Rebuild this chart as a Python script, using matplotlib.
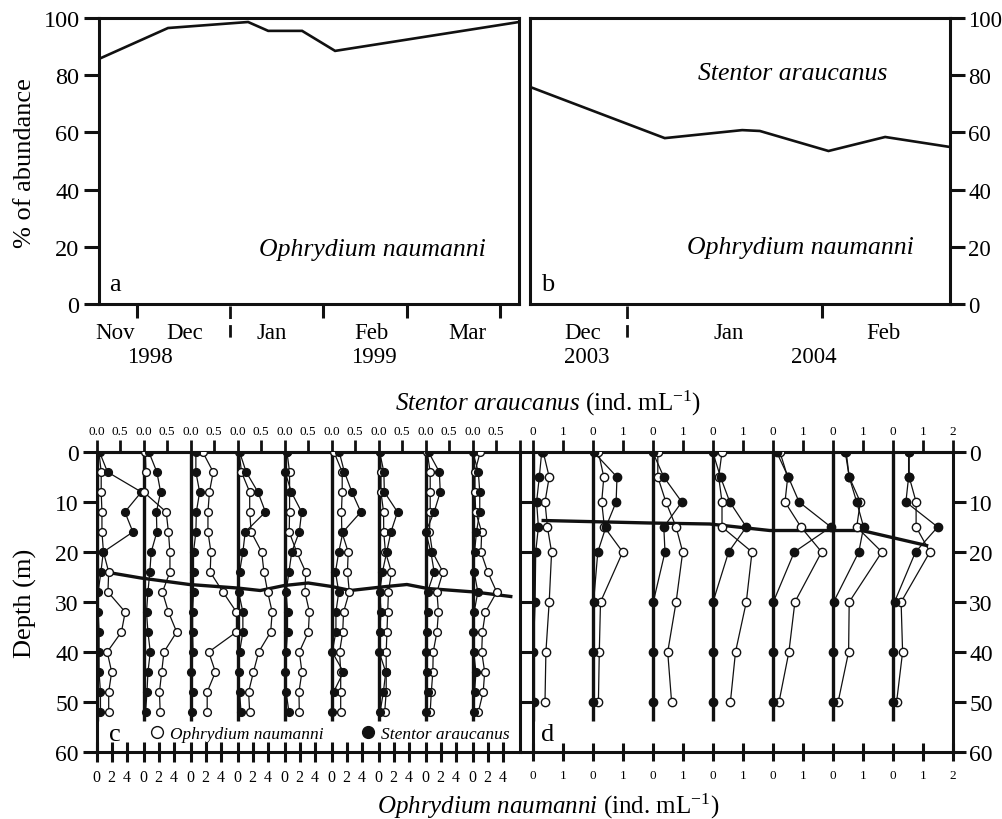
import matplotlib
matplotlib.use('Agg')
import matplotlib.pyplot as plt
from matplotlib.lines import Line2D
import numpy as np

plt.rcParams['font.family'] = ['Liberation Serif', 'DejaVu Serif']
plt.rcParams['mathtext.fontset'] = 'custom'
plt.rcParams['mathtext.rm'] = 'Liberation Serif'
plt.rcParams['mathtext.it'] = 'Liberation Serif:italic'

# ---------------- data ----------------
# Panel a: days since 1998-11-01, % abundance of Ophrydium
a_days = [17.3, 40.3, 67.0, 73.7, 85.0, 96.0, 157.3]
a_pct = [85.7, 96.5, 98.6, 95.5, 95.5, 88.5, 98.6]
a_xlim = (17.3, 157.3)
a_ticks = [30, 92, 120, 151]
a_year_break = 61
a_months = ['Nov', 'Dec', 'Jan', 'Feb', 'Mar']
a_month_pos = [22.7, 46.0, 75.0, 108.0, 140.0]
a_years = ['1998', '1999']
a_year_pos = [34.3, 109.0]

# Panel b: days since 2004-01-01
b_days = [-15.4, 6.0, 18.3, 21.1, 32.0, 41.0, 51.3]
b_pct = [75.9, 58.0, 60.8, 60.5, 53.5, 58.4, 54.9]
b_xlim = (-15.4, 51.3)
b_ticks = [31]
b_year_break = 0
b_months = ['Dec', 'Jan', 'Feb']
b_month_pos = [-7.0, 16.2, 40.7]
b_years = ['2003', '2004']
b_year_pos = [-6.4, 29.6]

pct_ticks = [0, 20, 40, 60, 80, 100]

# Panel c: 1998-99 profiles (9 dates), depths in m
depth_c = [0, 4, 8, 12, 16, 20, 24, 28, 32, 36, 40, 44, 48, 52]
stentor_c = [
    [0.06, 0.23, 0.95, 0.60, 0.77, 0.14, 0.09, 0.03, 0.03, 0.05, 0.05, 0.05, 0.08, 0.08],
    [0.11, 0.28, 0.36, 0.27, 0.28, 0.16, 0.13, 0.09, 0.06, 0.09, 0.14, 0.09, 0.07, 0.04],
    [0.11, 0.11, 0.19, 0.12, 0.11, 0.06, 0.06, 0.06, 0.04, 0.04, 0.05, 0.01, 0.04, 0.02],
    [0.04, 0.18, 0.43, 0.59, 0.16, 0.11, 0.04, 0.02, 0.11, 0.11, 0.04, 0.02, 0.04, 0.07],
    [0.05, 0.01, 0.14, 0.36, 0.31, 0.15, 0.09, 0.03, 0.06, 0.06, 0.03, 0.01, 0.03, 0.09],
    [0.16, 0.27, 0.43, 0.62, 0.24, 0.15, 0.08, 0.15, 0.09, 0.09, 0.01, 0.25, 0.04, 0.01],
    [0.02, 0.11, 0.12, 0.40, 0.26, 0.17, 0.08, 0.02, 0.05, 0.02, 0.01, 0.15, 0.10, 0.03],
    [0.06, 0.29, 0.31, 0.18, 0.00, 0.11, 0.18, 0.04, 0.04, 0.02, 0.00, 0.02, 0.04, 0.00],
    [0.00, 0.12, 0.15, 0.15, 0.08, 0.04, 0.03, 0.11, 0.03, 0.00, 0.02, 0.07, 0.04, 0.03],
]
ophrydium_c = [
    [0.3, 0.6, 0.6, 0.7, 0.7, 0.9, 1.6, 1.5, 3.8, 3.3, 1.4, 2.0, 1.6, 1.6],
    [0.2, 0.3, 0.0, 3.0, 3.3, 3.5, 3.5, 2.5, 3.3, 4.4, 2.7, 2.4, 2.1, 2.2],
    [1.6, 3.0, 2.5, 2.3, 2.3, 2.7, 2.6, 4.3, 6.1, 6.1, 2.4, 3.3, 2.2, 2.2],
    [0.2, 0.5, 1.6, 1.6, 1.8, 3.2, 3.5, 4.0, 4.6, 4.4, 2.8, 2.1, 1.45, 1.6],
    [0.3, 0.65, 0.65, 0.65, 0.6, 1.6, 2.8, 2.7, 3.3, 3.15, 1.95, 2.3, 1.9, 1.95],
    [0.3, 1.4, 1.4, 1.3, 1.35, 2.2, 2.1, 2.35, 1.58, 1.47, 1.05, 1.2, 1.2, 1.2],
    [0.2, 0.3, 0.3, 0.65, 0.67, 0.9, 1.7, 1.3, 1.2, 1.1, 1.0, 1.0, 1.0, 0.8],
    [0.2, 0.6, 0.6, 0.6, 0.5, 0.9, 2.3, 1.5, 1.7, 1.5, 1.0, 0.95, 0.75, 0.6],
    [1.0, 0.3, 0.3, 0.4, 1.2, 1.1, 2.0, 3.2, 1.7, 1.3, 1.2, 1.6, 1.4, 0.75],
]
thermo_c_x = [0, 0.94, 1.97, 2.99, 3.48, 3.99, 4.5, 5.0, 5.4, 6.06, 6.6, 7.04, 8.04, 8.81]
thermo_c_depth = [23.7, 25.2, 26.5, 27.2, 27.7, 26.7, 26.2, 26.9, 27.7, 27.0, 26.5, 27.3, 28.0, 28.9]
c_stentor_ticks = [0.0, 0.5]
c_stentor_ticklabels = ['0.0', '0.5']
c_ophry_ticks = [0, 2, 4]
c_ophry_per_slot = 6.27   # Ophrydium units spanning one profile slot (= 1.0 Stentor)

# Panel d: 2003-04 profiles (7 dates)
depth_d = [0, 5, 10, 15, 20, 30, 40, 50]
stentor_d = [
    [0.30, 0.22, 0.13, 0.19, 0.10, 0.08, 0.02, 0.04],
    [0.03, 0.81, 0.78, 0.44, 0.17, 0.03, 0.00, 0.00],
    [0.00, 0.37, 0.97, 0.37, 0.41, 0.02, 0.00, 0.00],
    [0.00, 0.26, 0.57, 1.12, 0.53, 0.01, 0.00, 0.00],
    [0.13, 0.52, 0.88, 1.94, 0.72, 0.02, 0.00, 0.00],
    [0.42, 0.55, 0.80, 1.03, 0.87, 0.03, 0.01, 0.00],
    [0.53, 0.53, 0.44, 1.50, 0.76, 0.06, 0.00, 0.02],
]
ophrydium_d = [
    [0.35, 0.55, 0.41, 0.49, 0.63, 0.55, 0.44, 0.41],
    [0.19, 0.37, 0.30, 0.39, 1.00, 0.26, 0.22, 0.19],
    [0.17, 0.17, 0.44, 0.78, 1.00, 0.78, 0.50, 0.63],
    [0.31, 0.20, 0.31, 0.31, 1.31, 1.12, 0.76, 0.59],
    [0.24, 0.50, 0.41, 0.94, 1.63, 0.74, 0.54, 0.21],
    [0.45, 0.55, 0.92, 0.80, 1.64, 0.55, 0.53, 0.18],
    [0.55, 0.55, 0.78, 0.78, 1.24, 0.28, 0.33, 0.13],
]
thermo_d_x = [0.35, 3.9, 5.9, 7.9, 10.97, 13.13]
thermo_d_depth = [13.7, 14.2, 14.4, 15.7, 15.7, 18.7]
d_ticks = [0, 1]
d_slot = 2
depth_ticks = [0, 10, 20, 30, 40, 50, 60]

# ---------------- figure ----------------
W, H = 1003, 820
fig = plt.figure(figsize=(W / 100, H / 100), dpi=100)


def rect(x0, y0, x1, y1):
    return [x0 / W, 1 - y1 / H, (x1 - x0) / W, (y1 - y0) / H]


SP = 2.2
K = '#111111'
TICKFS = 17.5


def style_spines(ax):
    for s in ax.spines.values():
        s.set_linewidth(SP)
        s.set_color(K)


def time_panel(ax, days, pct, xlim, ticks, ybreak, months, mpos, years, ypos):
    ax.plot(days, pct, color=K, lw=1.9, solid_joinstyle='miter')
    ax.set_xlim(*xlim)
    ax.set_ylim(0, 100)
    ax.set_yticks(pct_ticks)
    ax.set_xticks(ticks)
    ax.set_xticklabels([])
    ax.tick_params(axis='x', direction='out', length=10, width=SP, color=K)
    style_spines(ax)
    tr = ax.get_xaxis_transform()
    ax.plot([ybreak, ybreak], [-0.008, -0.135], transform=tr, clip_on=False,
            color=K, lw=2.0, dashes=(4.5, 2.2))
    for lab, p in zip(months, mpos):
        ax.text(p, -0.098, lab, transform=tr, ha='center', va='center', fontsize=16.5)
    for lab, p in zip(years, ypos):
        ax.text(p, -0.185, lab, transform=tr, ha='center', va='center', fontsize=16.5)


axa = fig.add_axes(rect(99, 19, 519, 305))
time_panel(axa, a_days, a_pct, a_xlim, a_ticks, a_year_break, a_months, a_month_pos, a_years, a_year_pos)
axa.tick_params(axis='y', direction='out', length=11, width=SP, labelsize=TICKFS, pad=3, color=K)
axa.text(0.65, 0.192, 'Ophrydium naumanni', transform=axa.transAxes, ha='center', va='center',
         fontsize=18.5, style='italic')
axa.text(0.038, 0.07, 'a', transform=axa.transAxes, ha='center', va='center', fontsize=19)

axb = fig.add_axes(rect(530, 19, 950, 305))
time_panel(axb, b_days, b_pct, b_xlim, b_ticks, b_year_break, b_months, b_month_pos, b_years, b_year_pos)
axb.yaxis.tick_right()
axb.tick_params(axis='y', direction='out', length=11, width=SP, labelsize=16.5, pad=2, color=K)
axb.text(0.626, 0.808, 'Stentor araucanus', transform=axb.transAxes, ha='center', va='center',
         fontsize=18.5, style='italic')
axb.text(0.643, 0.199, 'Ophrydium naumanni', transform=axb.transAxes, ha='center', va='center',
         fontsize=18.5, style='italic')
axb.text(0.043, 0.07, 'b', transform=axb.transAxes, ha='center', va='center', fontsize=19)

fig.text(25 / W, 1 - 163 / H, '% of abundance', rotation=90, ha='center', va='center', fontsize=19)

LW = 0.9
MEW = 1.0


def profile_panel(ax, n, slot, depth, sten, oph, oph_scale, tx, td, ms):
    for i in range(n):
        ax.plot([i * slot, i * slot], [0, 53.7], color=K, lw=2.4, solid_capstyle='butt', zorder=2)
    ax.plot(tx, td, color=K, lw=2.4, zorder=3)
    for i in range(n):
        base = i * slot
        ax.plot(base + np.asarray(oph[i]) / oph_scale, depth, '-o', color=K, lw=LW, ms=ms,
                mfc='white', mec=K, mew=MEW, zorder=4)
        ax.plot(base + np.asarray(sten[i]), depth, '-o', color=K, lw=LW, ms=ms,
                mfc=K, mec=K, mew=MEW, zorder=4)
    ax.set_ylim(60, 0)
    style_spines(ax)


# Panel c
axc = fig.add_axes(rect(96.7, 453, 519.7, 753))
nC = len(stentor_c)
profile_panel(axc, nC, 1.0, depth_c, stentor_c, ophrydium_c, c_ophry_per_slot,
              thermo_c_x, thermo_c_depth, 5.6)
axc.set_xlim(0, nC)
bpos = [i + v / c_ophry_per_slot for i in range(nC) for v in c_ophry_ticks]
blab = [str(v) for i in range(nC) for v in c_ophry_ticks]
axc.set_xticks(bpos, labels=blab)
axc.tick_params(axis='x', direction='inout', length=14, width=SP, labelsize=11.5, pad=5, color=K)
axc.set_yticks(depth_ticks)
axc.tick_params(axis='y', direction='out', length=10, width=SP, labelsize=17, pad=3, color=K)
secc = axc.secondary_xaxis('top')
tpos = [i + v for i in range(nC) for v in c_stentor_ticks] + [nC]
tlab = [l for i in range(nC) for l in c_stentor_ticklabels] + ['']
secc.set_xticks(tpos, labels=tlab)
secc.tick_params(direction='out', length=9, width=2.0, labelsize=9.5, pad=2, color=K)
secc.spines['top'].set_linewidth(SP)
handles = [Line2D([], [], marker='o', ls='none', mfc='white', mec=K, ms=8.5, mew=1.0,
                  label='Ophrydium naumanni'),
           Line2D([], [], marker='o', ls='none', mfc=K, mec=K, ms=8.5, mew=1.0,
                  label='Stentor araucanus')]
axc.legend(handles=handles, loc='center left', bbox_to_anchor=(0.125, 0.06), ncol=2, frameon=False,
           prop={'family': 'Liberation Serif', 'style': 'italic', 'size': 12.5},
           handlelength=0.8, handletextpad=0.35, columnspacing=2.2, borderpad=0, borderaxespad=0)
axc.text(0.043, 0.06, 'c', transform=axc.transAxes, ha='center', va='center', fontsize=19)

# Panel d
axd = fig.add_axes(rect(532.7, 453, 952.7, 753))
nD = len(stentor_d)
profile_panel(axd, nD, d_slot, depth_d, stentor_d, ophrydium_d, 1.0,
              thermo_d_x, thermo_d_depth, 6.0)
axd.set_xlim(0, nD * d_slot)
dpos = [i * d_slot + v for i in range(nD) for v in d_ticks] + [nD * d_slot]
dlab = [str(v) for i in range(nD) for v in d_ticks] + [str(d_slot)]
axd.set_xticks(dpos, labels=dlab)
axd.tick_params(axis='x', direction='inout', length=13, width=SP, labelsize=9.5, pad=6, color=K)
axd.set_yticks(depth_ticks)
axd.tick_params(axis='y', left=True, right=True, labelleft=False, labelright=True, direction='out',
                length=9, width=SP, labelsize=17, pad=3, color=K)
secd = axd.secondary_xaxis('top')
secd.set_xticks(dpos, labels=dlab)
secd.tick_params(direction='out', length=9, width=2.0, labelsize=9.5, pad=2, color=K)
secd.spines['top'].set_linewidth(SP)
axd.text(0.036, 0.06, 'd', transform=axd.transAxes, ha='center', va='center', fontsize=19)

fig.text(548 / W, 1 - 403 / H, r'$\it{Stentor\ araucanus}$ (ind. mL$^{-1}$)', ha='center', va='center',
         fontsize=18)
fig.text(548 / W, 1 - 806 / H, r'$\it{Ophrydium\ naumanni}$ (ind. mL$^{-1}$)', ha='center', va='center',
         fontsize=18)
fig.text(25 / W, 1 - 603 / H, 'Depth (m)', rotation=90, ha='center', va='center', fontsize=19)

fig.savefig('out.png', dpi=100)
